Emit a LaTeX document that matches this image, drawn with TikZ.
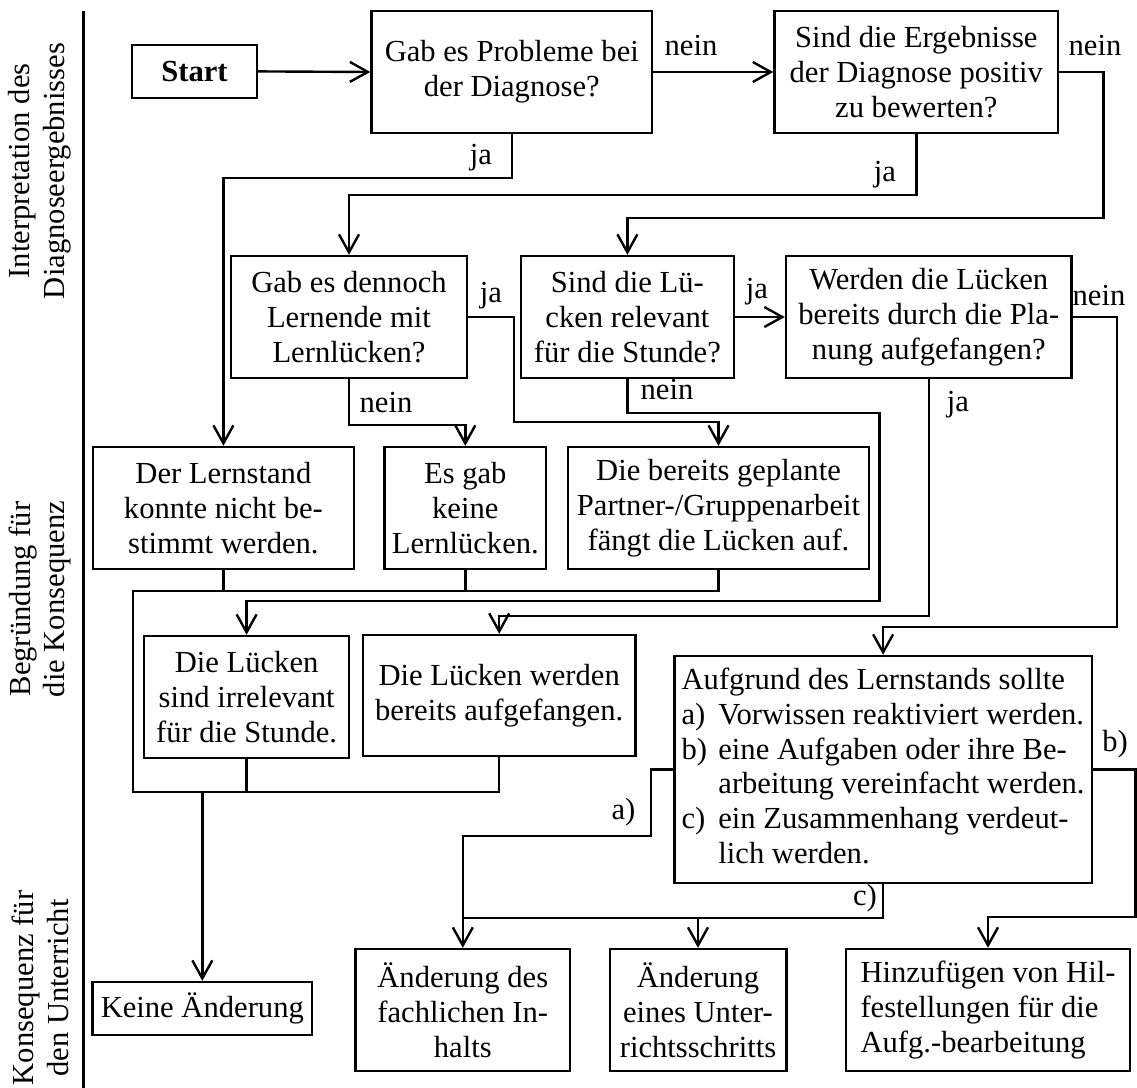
\documentclass[tikz,border=0pt]{standalone}
\usepackage{fontspec}
\setmainfont{Liberation Serif}
\usetikzlibrary{arrows.meta}

\begin{document}
\begin{tikzpicture}[x=0.5pt,y=-0.5pt,
		font=\fontsize{15.3}{17.4}\selectfont,
		line width=1.2pt,
		box/.style={draw,align=center,inner sep=3pt,minimum height=61pt},
		lbl/.style={inner sep=0pt},
		arr/.style={-{Straight Barb[length=9pt,width=10pt]}}]
		\useasboundingbox (0,0) rectangle (1137,1088);
		% Spalten links
		\draw (83.6,11) coordinate (topline) -- (83.6,1088);
		\node[rotate=90,align=center] (interp) at (40,171) {Interpretation des\\Diagnoseergebnisses};
		\node[rotate=90,align=center] (begr) at (40,599) {Begründung für\\die Konsequenz};
		\node[rotate=90,align=center] (konseq) at (40,988) {Konsequenz für\\den Unterricht};
		% Fragen
		\node[box,minimum height=26.5pt,minimum width=62.5pt] (start) at (194.5,71.4) {\textbf{Start}};
		\node[box,minimum width=140.3pt] (probleme) at (511.8,72) {Gab es Probleme bei\\der Diagnose?};
		\node[box,minimum width=141.8pt] (positiv) at (916.3,72) {Sind die Ergebnisse\\der Diagnose positiv\\zu bewerten?};
		\node[box,minimum width=118pt] (dennoch) at (349,317) {Gab es dennoch\\Lernende mit\\Lernlücken?};
		\node[box,minimum width=106.4pt] (relevant) at (627.4,317) {Sind die Lü-\\cken relevant\\für die Stunde?};
		\node[box,minimum width=142.8pt] (planung) at (928.8,317) {Werden die Lücken\\bereits durch die Pla-\\nung aufgefangen?};
		% Begruendungen
		\node[box,minimum width=130.7pt] (lernstand) at (223.4,508) {Der Lernstand\\konnte nicht be-\\stimmt werden.};
		\node[box,minimum width=80.7pt] (keine) at (465.3,508) {Es gab\\keine\\Lernlücken.};
		\node[box,minimum width=150.5pt] (partner) at (718.5,508) {Die bereits geplante\\Partner-/Gruppenarbeit\\fängt die Lücken auf.};
		\node[box,minimum width=102.4pt] (irrelevant) at (246.6,697) {Die Lücken\\sind irrelevant\\für die Stunde.};
		\node[box,minimum width=136.3pt,minimum height=60.5pt] (aufgefangen) at (499.2,695.5) {Die Lücken werden\\bereits aufgefangen.};
		\node[box,minimum width=208.6pt,minimum height=113.5pt,align=left] (aufgrund) at (883.1,769.5) {%
			\begin{tabular}{@{}p{18.4pt}@{}l@{}}
				\multicolumn{2}{@{}l@{}}{Aufgrund des Lernstands sollte}\\
				a) & Vorwissen reaktiviert werden.\\
				b) & eine Aufgaben oder ihre Be-\\
				& arbeitung vereinfacht werden.\\
				c) & ein Zusammenhang verdeut-\\
				& lich werden.
			\end{tabular}};
		% Konsequenzen
		\node[box,minimum width=109.7pt,minimum height=26.5pt] (keineAend) at (202.3,1008.5) {Keine Änderung};
		\node[box,minimum width=107.3pt] (inhalt) at (462.8,1010) {Änderung des\\fachlichen In-\\halts};
		\node[box,minimum width=88.3pt] (schritt) at (698,1010) {Änderung\\eines Unter-\\richtsschritts};
		\node[box,minimum width=142pt,align=left] (hilfe) at (988,1010) {Hinzufügen von Hil-\\festellungen für die\\Aufg.-bearbeitung};
		% Pfeile
		\draw[arr] (start.east) -- (probleme.west);
		\draw[arr] (probleme.east) -- (positiv.west);
		\draw[arr] (positiv.east) -| ++(44,146) -| (relevant.north);
		\draw[arr] (positiv.south) -- ++(0,61) -| (dennoch.north);
		\draw[arr] (probleme.south) -- ++(0,44) -| (lernstand.north);
		\draw[arr] (dennoch.east) -| ++(45.5,105) -| (partner.north);
		\draw[arr] (dennoch.south) -- ++(0,46) -| (keine.north);
		\draw[arr] (relevant.east) -- (planung.west);
		\draw[arr] (relevant.south) -- ++(0,34) -| ++(252,188) -| (irrelevant.north);
		\draw[arr] (planung.south) -- ++(0,237) -| (aufgefangen.north);
		\draw[arr] (planung.east) -| ++(44,310) -| (aufgrund.north);
		% Sammelleitung
		\coordinate (j1) at (132.7,591);
		\coordinate (j2) at (132.7,792);
		\draw (partner.south) |- (j1) -- (j2) -| (aufgefangen.south);
		\draw (lernstand.south) -- (lernstand.south |- j1);
		\draw (keine.south) -- (keine.south |- j1);
		\draw (irrelevant.south) -- (irrelevant.south |- j2);
		\draw[arr] (keineAend.north |- j2) -- (keineAend.north);
		% a), b), c)
		\draw[arr] (aufgrund.west) -| ++(-22.5,66.5) -| (inhalt.north);
		\draw[arr] (aufgrund.east) -| ++(42.5,147.5) -| (hilfe.north);
		\draw (aufgrund.south) -- ++(0,34) coordinate (cj) -- (cj -| inhalt.north);
		\draw[arr] (cj -| schritt.north) -- (schritt.north);
		% Beschriftungen
		\node[lbl] (nein1) at (691,46) {nein};
		\node[lbl] (nein2) at (1095,46) {nein};
		\node[lbl] (ja1) at (481,158) {ja};
		\node[lbl] (ja2) at (885,175) {ja};
		\node[lbl] (ja3) at (491,296) {ja};
		\node[lbl] (nein3) at (386,403) {nein};
		\node[lbl] (ja4) at (757,292) {ja};
		\node[lbl] (nein4) at (667,390) {nein};
		\node[lbl] (ja5) at (958,405) {ja};
		\node[lbl] (nein5) at (1099,296) {nein};
		\node[lbl] (la) at (623.5,812) {a)};
		\node[lbl] (lb) at (1115,744) {b)};
		\node[lbl] (lc) at (865,898) {c)};
	\end{tikzpicture}
\end{document}
